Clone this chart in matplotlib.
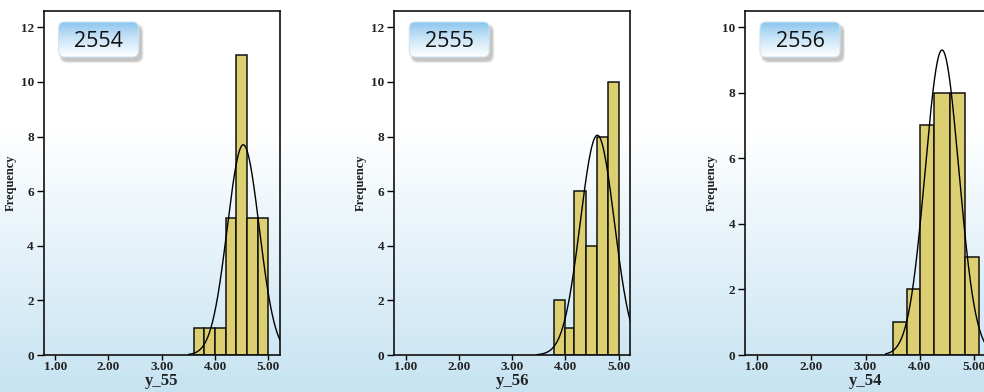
import numpy as np
import matplotlib
matplotlib.use("Agg")
import matplotlib.pyplot as plt
from matplotlib.patches import FancyBboxPatch
from matplotlib.colors import to_rgb

# --- data ---
titles = ["2554", "2555", "2556"]
xlabels = ["y_55", "y_56", "y_54"]

edges_55 = [3.60, 3.80, 4.00, 4.20, 4.40, 4.60, 4.80, 5.00]
counts_55 = [1, 1, 1, 5, 11, 5, 5]
edges_56 = [3.79, 3.99, 4.17, 4.38, 4.59, 4.80, 5.01]
counts_56 = [2, 1, 6, 4, 8, 10]
edges_54 = [3.51, 3.77, 4.00, 4.27, 4.55, 4.83, 5.10]
counts_54 = [1, 2, 7, 8, 8, 3]

# fitted normal curve: peak height, mean, sd, where the curve starts
curve_peak = [7.7, 8.05, 9.3]
curve_mean = [4.53, 4.60, 4.41]
curve_sd = [0.30, 0.32, 0.31]
curve_start = [3.51, 3.47, 3.37]

y_max = [12.6, 12.6, 10.49]
y_ticks = [range(0, 13, 2), range(0, 13, 2), range(0, 11, 2)]
x_ticks = [1, 2, 3, 4, 5]

W, H = 984, 392
fig = plt.figure(figsize=(W / 100, H / 100), dpi=100)
fig.patch.set_facecolor("white")

# background: white top fading to light blue at the bottom
bg = fig.add_axes([0, 0, 1, 1], zorder=-5)
rows = np.arange(H)
t = np.clip((rows - 130) / (H - 130), 0, 1)[:, None]
top_c = np.array(to_rgb("#ffffff"))
bot_c = np.array(to_rgb("#c6e3f2"))
grad = (1 - t) * top_c + t * bot_c
bg.imshow(grad[:, None, :], aspect="auto", extent=[0, 1, 0, 1])
bg.axis("off")

serif = "Liberation Serif"
bar_color = "#dccf72"
ax_left_px = [43.5, 394.3, 745.0]
ax_width_px = [236.5, 236.0, 241.0]
ax_top_px, ax_bot_px = 11, 355

all_edges = [edges_55, edges_56, edges_54]
all_counts = [counts_55, counts_56, counts_54]

for i in range(3):
    ax = fig.add_axes([ax_left_px[i] / W, (H - ax_bot_px) / H,
                       ax_width_px[i] / W, (ax_bot_px - ax_top_px) / H])
    ax.patch.set_alpha(0)
    e = np.array(all_edges[i])
    ax.bar(e[:-1], all_counts[i], width=np.diff(e), align="edge",
           color=bar_color, edgecolor="#111111", linewidth=1.1, zorder=2)
    xs = np.linspace(curve_start[i], 5.22, 300)
    ys = curve_peak[i] * np.exp(-0.5 * ((xs - curve_mean[i]) / curve_sd[i]) ** 2)
    ax.plot(xs, ys, color="black", lw=1.0, zorder=3)

    ax.set_xlim(0.78, 5.22)
    ax.set_ylim(0, y_max[i])
    ax.set_xticks(x_ticks)
    ax.set_xticklabels([f"{v:.2f}" for v in x_ticks])
    ax.set_yticks(list(y_ticks[i]))
    for sp in ax.spines.values():
        sp.set_linewidth(1.2)
        sp.set_color("#111111")
    ax.tick_params(axis="y", length=5, width=1.0, pad=2, direction="out")
    ax.tick_params(axis="x", length=3.6, width=1.0, pad=1, direction="out")
    for lab in ax.get_xticklabels() + ax.get_yticklabels():
        lab.set_fontfamily(serif)
        lab.set_fontweight("bold")
        lab.set_fontsize(9.5)
        lab.set_color("#222222")
    ax.set_xlabel(xlabels[i], family=serif, fontweight="bold", fontsize=12,
                  labelpad=0, color="#222222")
    ax.set_ylabel("Frequency", family=serif, fontweight="bold", fontsize=9,
                  labelpad=3, color="#222222")

    # title box with blue gradient and soft shadow
    bx, by, bw, bh = ax_left_px[i] + 15, 22, 80, 35
    bax = fig.add_axes([(bx - 2) / W, (H - (by + bh + 8)) / H,
                        (bw + 10) / W, (bh + 10) / H], zorder=6)
    bax.set_xlim(-2, bw + 8)
    bax.set_ylim(bh + 8, -2)
    bax.axis("off")
    for k in range(5):
        bax.add_patch(FancyBboxPatch((3 - k * 0.5, 4 - k * 0.5), bw + k, bh + k,
                                     boxstyle="round,pad=0,rounding_size=7",
                                     fc="#6a6a6a", ec="none", alpha=0.09))
    box = FancyBboxPatch((0, 0), bw, bh, boxstyle="round,pad=0,rounding_size=6",
                         fc="none", ec="#cfe3f2", lw=0.8, transform=bax.transData)
    bax.add_patch(box)
    tt = np.linspace(0, 1, 40)[:, None]
    c1 = np.array(to_rgb("#88c3ee"))
    c2 = np.array(to_rgb("#ffffff"))
    bgrad = (1 - tt ** 0.8) * c1 + (tt ** 0.8) * c2
    im = bax.imshow(bgrad[:, None, :], aspect="auto", extent=(0, bw, bh, 0),
                    origin="upper", zorder=1)
    im.set_clip_path(box)
    box.set_zorder(2)
    bax.text(bw / 2, 19.3, titles[i], ha="center", va="center", fontsize=15.5,
             family="Open Sans", color="#111111", zorder=3)

fig.savefig("out.png", dpi=100)
